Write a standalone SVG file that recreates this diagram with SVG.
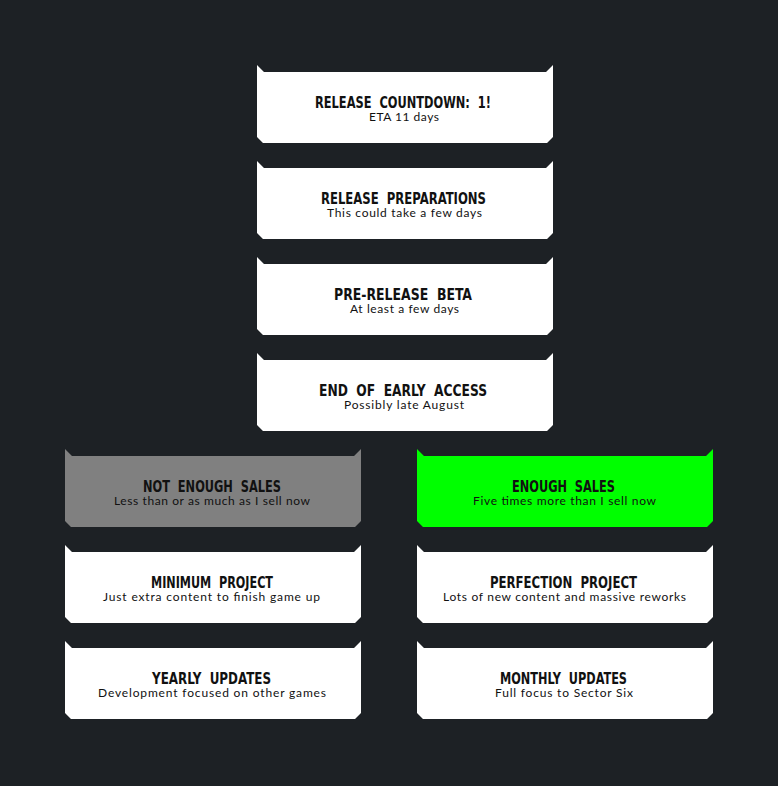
<svg xmlns="http://www.w3.org/2000/svg" width="778" height="786" viewBox="0 0 778 786">
<style>
.bg{fill:#1d2125}
.w{fill:#ffffff}
.g{fill:#808080}
.gr{fill:#00ff00}
.t{font-family:"DejaVu Sans Condensed","DejaVu Sans",sans-serif;font-stretch:condensed;font-weight:bold;font-size:16px;fill:#111;text-anchor:middle;white-space:pre}
.s{font-family:"Lato","Noto Sans",sans-serif;font-size:12px;fill:#111;text-anchor:middle}
</style>
<defs>
<path id="box" d="M0,0 L7,7 L289,7 L296,0 L296,72 L290,78 L6,78 L0,72 Z"/>
</defs>
<rect class="bg" x="0" y="0" width="778" height="786"/>
<g id="connectors"/>
<g id="release-countdown">
<use href="#box" class="w" x="257" y="65"/>
<text class="t" x="403" y="108" textLength="176" lengthAdjust="spacingAndGlyphs" xml:space="preserve">RELEASE  COUNTDOWN:  1!</text>
<text class="s" x="404" y="121" textLength="70" lengthAdjust="spacing">ETA 11 days</text>
</g>
<g id="release-preparations">
<use href="#box" class="w" x="257" y="161"/>
<text class="t" x="403.5" y="204" textLength="165" lengthAdjust="spacingAndGlyphs" xml:space="preserve">RELEASE  PREPARATIONS</text>
<text class="s" x="404.5" y="217" textLength="155" lengthAdjust="spacing">This could take a few days</text>
</g>
<g id="pre-release-beta">
<use href="#box" class="w" x="257" y="257"/>
<text class="t" x="403" y="300" textLength="138" lengthAdjust="spacingAndGlyphs" xml:space="preserve">PRE-RELEASE  BETA</text>
<text class="s" x="404.5" y="313" textLength="109" lengthAdjust="spacing">At least a few days</text>
</g>
<g id="end-of-early-access">
<use href="#box" class="w" x="257" y="353"/>
<text class="t" x="403" y="396" textLength="168" lengthAdjust="spacingAndGlyphs" xml:space="preserve">END  OF  EARLY  ACCESS</text>
<text class="s" x="404" y="409" textLength="120" lengthAdjust="spacing">Possibly late August</text>
</g>
<g id="not-enough-sales">
<use href="#box" class="g" x="65" y="449"/>
<text class="t" x="212" y="492" textLength="138" lengthAdjust="spacingAndGlyphs" xml:space="preserve">NOT  ENOUGH  SALES</text>
<text class="s" x="212" y="505" textLength="196" lengthAdjust="spacing">Less than or as much as I sell now</text>
</g>
<g id="enough-sales">
<use href="#box" class="gr" x="417" y="449"/>
<text class="t" x="563.5" y="492" textLength="103" lengthAdjust="spacingAndGlyphs" xml:space="preserve">ENOUGH  SALES</text>
<text class="s" x="564.5" y="505" textLength="183" lengthAdjust="spacing">Five times more than I sell now</text>
</g>
<g id="minimum-project">
<use href="#box" class="w" x="65" y="545"/>
<text class="t" x="212" y="588" textLength="122" lengthAdjust="spacingAndGlyphs" xml:space="preserve">MINIMUM  PROJECT</text>
<text class="s" x="211.5" y="601" textLength="217" lengthAdjust="spacing">Just extra content to finish game up</text>
</g>
<g id="perfection-project">
<use href="#box" class="w" x="417" y="545"/>
<text class="t" x="563.5" y="588" textLength="147" lengthAdjust="spacingAndGlyphs" xml:space="preserve">PERFECTION  PROJECT</text>
<text class="s" x="564.5" y="601" textLength="243" lengthAdjust="spacing">Lots of new content and massive reworks</text>
</g>
<g id="yearly-updates">
<use href="#box" class="w" x="65" y="641"/>
<text class="t" x="211.5" y="684" textLength="119" lengthAdjust="spacingAndGlyphs" xml:space="preserve">YEARLY  UPDATES</text>
<text class="s" x="212" y="697" textLength="228" lengthAdjust="spacing">Development focused on other games</text>
</g>
<g id="monthly-updates">
<use href="#box" class="w" x="417" y="641"/>
<text class="t" x="563.5" y="684" textLength="127" lengthAdjust="spacingAndGlyphs" xml:space="preserve">MONTHLY  UPDATES</text>
<text class="s" x="564" y="697" textLength="138" lengthAdjust="spacing">Full focus to Sector Six</text>
</g>
</svg>
